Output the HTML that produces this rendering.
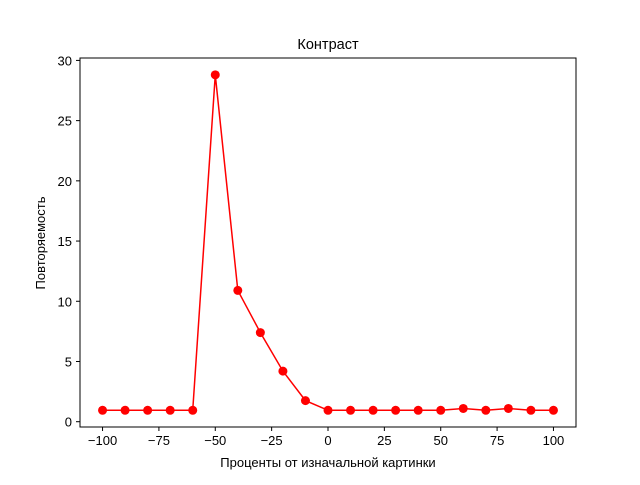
<!DOCTYPE html>
<html><head><meta charset="utf-8"><style>
body{margin:0;background:#fff}
svg text{font-family:"Liberation Sans","DejaVu Sans",sans-serif;fill:#000}
</style></head><body>
<svg id="chart" width="640" height="480" viewBox="0 0 640 480">
<rect width="640" height="480" fill="#fff"/>
<text x="328" y="49" font-size="14.5" text-anchor="middle">Контраст</text>
<g id="xt"></g>
<g id="yt"></g>
<text x="328" y="467" font-size="13" text-anchor="middle">Проценты от изначальной картинки</text>
<text transform="translate(45,243) rotate(-90)" font-size="13" text-anchor="middle">Повторяемость</text>
<g id="series"></g>
<rect x="80" y="58" width="496" height="369" fill="none" stroke="#000" stroke-width="1"/>
</svg>
<script>
const xValues=[-100,-90,-80,-70,-60,-50,-40,-30,-20,-10,0,10,20,30,40,50,60,70,80,90,100];
const yValues=[0.95,0.95,0.95,0.95,0.95,28.8,10.9,7.4,4.2,1.75,0.95,0.95,0.95,0.95,0.95,0.95,1.1,0.95,1.1,0.95,0.95];
const xTicks=[-100,-75,-50,-25,0,25,50,75,100];
const yTicks=[0,5,10,15,20,25,30];
const NS="http://www.w3.org/2000/svg";
const X0=80,X1=576,Y0=427,Y1=58,xmin=-110,xmax=110,ymin=-0.44,ymax=30.2;
const sx=v=>X0+(v-xmin)/(xmax-xmin)*(X1-X0);
const sy=v=>Y0-(v-ymin)/(ymax-ymin)*(Y0-Y1);
function mk(t,a,p){const e=document.createElementNS(NS,t);for(const k in a)e.setAttribute(k,a[k]);p.appendChild(e);return e;}
const xt=document.getElementById('xt'),yt=document.getElementById('yt'),s=document.getElementById('series');
xTicks.forEach(v=>{const x=sx(v);
 const l=mk('line',{x1:x,x2:x,y1:Y0,y2:Y0+4,stroke:'#000'},xt);
 
 
 const t=mk('text',{x:x,y:Y0+18,'font-size':13,'text-anchor':'middle'},xt);t.textContent=v<0?'\u2212'+(-v):v;
 
 });
yTicks.forEach(v=>{const y=sy(v);
 const l=mk('line',{x1:X0-4,x2:X0,y1:y,y2:y,stroke:'#000'},yt);
 
 
 const t=mk('text',{x:X0-8,y:y+5,'font-size':13,'text-anchor':'end'},yt);t.textContent=v;
 
 });
const pl=mk('polyline',{points:xValues.map((x,i)=>sx(x)+','+sy(yValues[i])).join(' '),fill:'none',stroke:'#ff0000','stroke-width':1.5},s);


xValues.forEach((x,i)=>{const c=mk('circle',{cx:sx(x),cy:sy(yValues[i]),r:4.5,fill:'#ff0000'},s);
 
 });
</script>
</body></html>
